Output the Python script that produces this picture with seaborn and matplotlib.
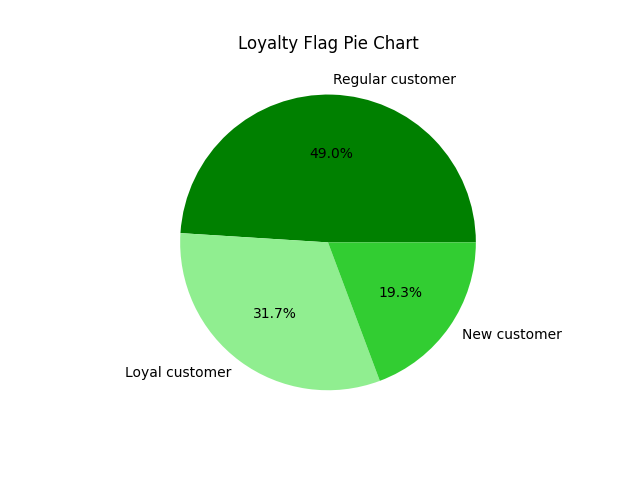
import matplotlib
matplotlib.use("Agg")
import matplotlib.pyplot as plt
import seaborn as sns

labels = ["Regular customer", "Loyal customer", "New customer"]
shares = [49.0, 31.7, 19.3]
colors = ["green", "lightgreen", "limegreen"]

plt.rcParams.update(matplotlib.rcParamsDefault)
plt.rcParams['font.family'] = ['DejaVu Sans']
palette = sns.color_palette(colors)

fig, ax = plt.subplots(figsize=(6.4, 4.8), dpi=100)
ax.pie(shares, labels=labels, colors=palette, autopct="%1.1f%%")
ax.set_title("Loyalty Flag Pie Chart")
fig.savefig("out.png", dpi=100)
